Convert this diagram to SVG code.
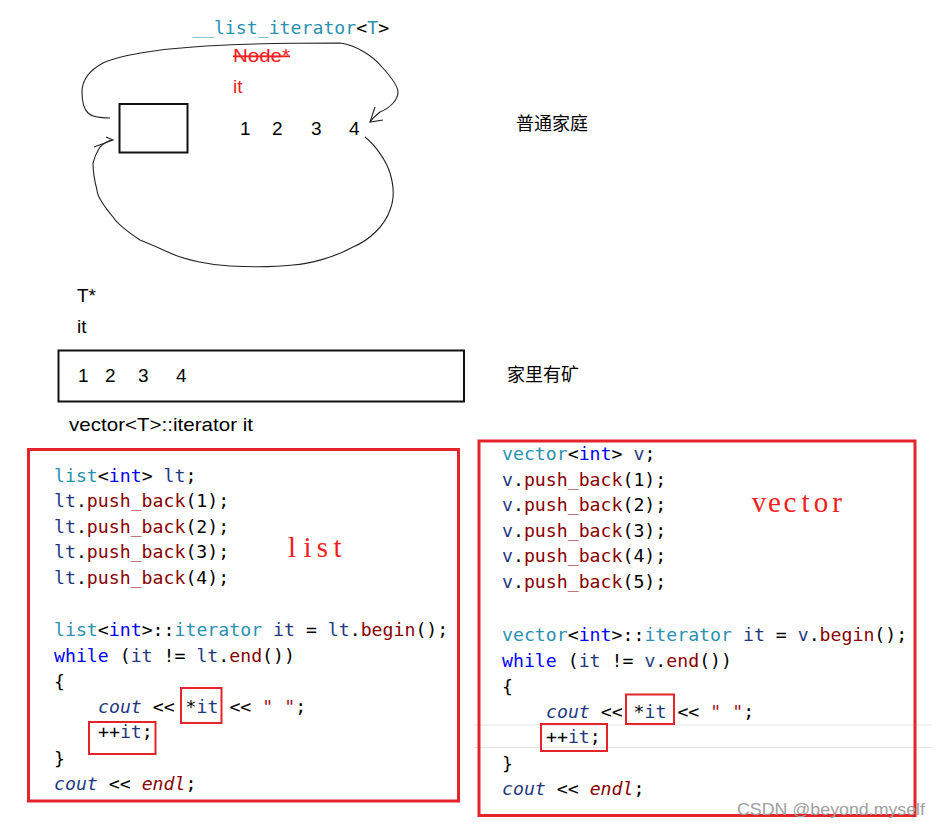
<svg xmlns="http://www.w3.org/2000/svg" width="942" height="829" viewBox="0 0 942 829">
<style>
.sans{font-family:"Liberation Sans","Noto Sans CJK SC",sans-serif;font-size:19px;fill:#000}
.cjk{font-family:"Noto Sans CJK SC",sans-serif;font-size:18px;fill:#000}
.code{font-family:"DejaVu Sans Mono","Liberation Mono",monospace;font-size:18.2px;fill:#000}
.ty{fill:#2b91af}.kw{fill:#0000ff}.var{fill:#1f377f}.fn{fill:#880000}.str{fill:#a31515}
.it{font-style:italic}
.big{font-family:"Liberation Serif",serif;font-size:29px;fill:#f01e23;text-anchor:middle}
.curve{fill:none;stroke:#222;stroke-width:1.1}
.redbox{fill:none;stroke:#e3242b;stroke-width:3}
.hl{fill:none;stroke:#e3242b;stroke-width:2}
</style>
<rect width="942" height="829" fill="#fff"/>

<g id="connectors">
<path class="curve" d="M110,118 C100,118 92,117 88,113 C83,108 82,100 82,92 C82,80 90,70 103,63 C120,55 160,49 193,47 C230,44 290,43 340,43 C355,45 372,55 382,67 C392,78 398,86 398,92 C398,100 390,108 380,112 C375,116 372,119 370,122"/>
<path class="curve" d="M375,107 L370,122 L383,120"/>
<path class="curve" d="M365,137 C375,145 386,160 390,173 C394,186 394,200 390,210 C385,225 370,240 353,247 C335,257 310,264 293,265 C275,267 250,267 230,266 C210,265 185,260 170,253 C155,246 145,242 140,240 C128,232 118,225 113,217 C103,205 97,195 97,190 C93,175 93,168 93,163 C95,155 98,150 100,147 C104,143 108,141 112,140"/>
<path class="curve" d="M94,147 L113,140 L106,137"/>
</g>

<g id="list-iterator-label">
<text class="code" x="192" y="34" font-size="18.3"><tspan class="ty">__list_iterator</tspan>&lt;<tspan class="ty">T</tspan>&gt;</text>
<text x="233" y="62" font-family="Liberation Sans,sans-serif" font-size="19" fill="#f02020" text-decoration="line-through" textLength="57" lengthAdjust="spacingAndGlyphs">Node*</text>
<text x="233" y="93" font-family="Liberation Sans,sans-serif" font-size="19" fill="#f02020">it</text>
</g>

<g id="list-node">
<rect x="119.5" y="104" width="68" height="48.5" fill="none" stroke="#111" stroke-width="2"/>
</g>

<g id="list-values">
<text class="sans" x="240" y="135">1</text>
<text class="sans" x="272" y="135">2</text>
<text class="sans" x="311" y="135">3</text>
<text class="sans" x="349" y="135">4</text>
</g>

<g id="label-ordinary">
<text class="cjk" x="516" y="130">普通家庭</text>
</g>

<g id="vector-labels">
<text class="sans" x="77" y="302">T*</text>
<text class="sans" x="77" y="333">it</text>
</g>

<g id="vector-array">
<rect x="58.5" y="350.5" width="405.5" height="51" fill="none" stroke="#111" stroke-width="2"/>
<text class="sans" x="78" y="382">1</text>
<text class="sans" x="105" y="382">2</text>
<text class="sans" x="138" y="382">3</text>
<text class="sans" x="176" y="382">4</text>
</g>

<g id="label-rich">
<text class="cjk" x="507" y="381">家里有矿</text>
</g>

<g id="vector-iterator-label">
<text class="sans" x="69" y="431" textLength="184" lengthAdjust="spacingAndGlyphs">vector&lt;T&gt;::iterator it</text>
</g>

<g id="list-code">
<rect class="redbox" x="28.5" y="449.5" width="430" height="351.5"/>
<text class="code" x="54" y="482"><tspan class="ty">list</tspan>&lt;<tspan class="kw">int</tspan>&gt; <tspan class="var">lt</tspan>;</text>
<text class="code" x="54" y="507"><tspan class="var">lt</tspan>.<tspan class="fn">push_back</tspan>(1);</text>
<text class="code" x="54" y="533"><tspan class="var">lt</tspan>.<tspan class="fn">push_back</tspan>(2);</text>
<text class="code" x="54" y="558"><tspan class="var">lt</tspan>.<tspan class="fn">push_back</tspan>(3);</text>
<text class="code" x="54" y="584"><tspan class="var">lt</tspan>.<tspan class="fn">push_back</tspan>(4);</text>
<text class="code" x="54" y="636"><tspan class="ty">list</tspan>&lt;<tspan class="kw">int</tspan>&gt;::<tspan class="ty">iterator</tspan> <tspan class="var">it</tspan> = <tspan class="var">lt</tspan>.<tspan class="fn">begin</tspan>();</text>
<text class="code" x="54" y="662"><tspan class="kw">while</tspan> (<tspan class="var">it</tspan> != <tspan class="var">lt</tspan>.<tspan class="fn">end</tspan>())</text>
<text class="code" x="54" y="688">{</text>
<text class="code" x="98" y="713"><tspan class="var it">cout</tspan> &lt;&lt; *<tspan class="var">it</tspan> &lt;&lt; <tspan class="str">" "</tspan>;</text>
<text class="code" x="98" y="738">++<tspan class="var">it</tspan>;</text>
<text class="code" x="54" y="765">}</text>
<text class="code" x="54" y="790"><tspan class="var it">cout</tspan> &lt;&lt; <tspan class="fn it">endl</tspan>;</text>
<rect class="hl" x="181" y="688" width="40.5" height="35"/>
<rect class="hl" x="89" y="722" width="66.5" height="32"/>
<text class="big" x="292 307.5 322.5 337.5" y="557">list</text>
</g>

<g id="vector-code">
<line x1="474" y1="725" x2="932" y2="725" stroke="#e4e4e4" stroke-width="1"/>
<line x1="474" y1="747.5" x2="932" y2="747.5" stroke="#e4e4e4" stroke-width="1"/>
<rect class="redbox" x="479" y="441" width="436" height="374.5"/>
<text class="code" x="502" y="460"><tspan class="ty">vector</tspan>&lt;<tspan class="kw">int</tspan>&gt; <tspan class="var">v</tspan>;</text>
<text class="code" x="502" y="486"><tspan class="var">v</tspan>.<tspan class="fn">push_back</tspan>(1);</text>
<text class="code" x="502" y="511"><tspan class="var">v</tspan>.<tspan class="fn">push_back</tspan>(2);</text>
<text class="code" x="502" y="537"><tspan class="var">v</tspan>.<tspan class="fn">push_back</tspan>(3);</text>
<text class="code" x="502" y="562"><tspan class="var">v</tspan>.<tspan class="fn">push_back</tspan>(4);</text>
<text class="code" x="502" y="588"><tspan class="var">v</tspan>.<tspan class="fn">push_back</tspan>(5);</text>
<text class="code" x="502" y="641"><tspan class="ty">vector</tspan>&lt;<tspan class="kw">int</tspan>&gt;::<tspan class="ty">iterator</tspan> <tspan class="var">it</tspan> = <tspan class="var">v</tspan>.<tspan class="fn">begin</tspan>();</text>
<text class="code" x="502" y="667"><tspan class="kw">while</tspan> (<tspan class="var">it</tspan> != <tspan class="var">v</tspan>.<tspan class="fn">end</tspan>())</text>
<text class="code" x="502" y="693">{</text>
<text class="code" x="546" y="718"><tspan class="var it">cout</tspan> &lt;&lt; *<tspan class="var">it</tspan> &lt;&lt; <tspan class="str">" "</tspan>;</text>
<text class="code" x="546" y="743">++<tspan class="var">it</tspan>;</text>
<text class="code" x="502" y="770">}</text>
<text class="code" x="502" y="795"><tspan class="var it">cout</tspan> &lt;&lt; <tspan class="fn it">endl</tspan>;</text>
<rect class="hl" x="626" y="694.5" width="48" height="29.5"/>
<rect class="hl" x="541" y="724" width="66" height="27"/>
<text class="big" x="759 774.5 790 805.5 821 837" y="512">vector</text>
</g>

<g id="watermark">
<text x="737" y="815" font-family="Liberation Sans,sans-serif" font-size="17" fill="#a0a0a0" textLength="188" lengthAdjust="spacingAndGlyphs">CSDN @beyond.myself</text>
</g>
</svg>
